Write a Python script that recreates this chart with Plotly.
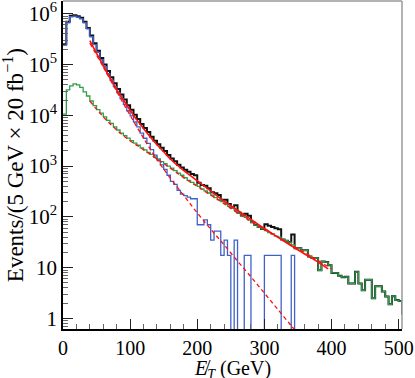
import numpy as np
import plotly.graph_objects as go

# 5 GeV bins, lower edges 0, 5, ..., 505
BIN_WIDTH = 5

total = [251000, 692000, 912000, 933000, 891000, 832000, 692000, 525000, 372000, 263000,
         186000, 135000, 100000, 74100, 56200, 42700, 33100, 25700, 20400, 15800,
         12900, 10200, 8500, 6760, 5620, 4670, 3800, 3160, 2690, 2290,
         1980, 1660, 1410, 1250, 1060, 940, 850, 770, 700, 660,
         470, 425, 410, 365, 305, 292, 271, 218, 217, 180,
         150, 170, 121, 106, 115, 105, 78, 69, 63, 58,
         72, 67, 63, 60, 57, 36, 34, 32, 45, 24,
         24, 22, 22, 16.6, 15.5, 15.5, 8.9, 13.2, 12.9, 11.2,
         7.9, 7.9, 6.9, 6.5, 6.6, 4.9, 4.9, 8.3, 4.9, 3.6,
         5.8, 5.8, 2.5, 4.3, 4.3, 3.4, 2.7, 1.9, 2.75, 2.3,
         2.2, 1.26]

multijet = [240000, 661000, 871000, 891000, 851000, 794000, 661000, 501000, 352000, 247000,
            173000, 124000, 90700, 66200, 49300, 36800, 28000, 21200, 16400, 12300,
            9740, 7380, 5930, 4470, 3530, 2810, 2100, 1650, 1310, 1060,
            860, 660, 500, 437, 332, 280, 262.5, 245, 227.5, 227.5,
            70, 70, 87.5, 70, 35, 52.5, 52.5, 17.5, 35, 17.5,
            0, 35, 0, 0, 17.5, 17.5, 0, 0, 0, 0,
            17.5, 17.5, 17.5, 17.5, 17.5, 0, 0, 0, 17.5, 0,
            0, 0, 0, 0, 0, 0, 0, 0, 0, 0,
            0, 0, 0, 0, 0, 0, 0, 0, 0, 0,
            0, 0, 0, 0, 0, 0, 0, 0, 0, 0,
            0, 0]

electroweak = [10500, 31600, 38000, 41700, 39800, 35500, 28800, 24000, 19100, 15500,
               12900, 11000, 9330, 7940, 6920, 5890, 5130, 4470, 3980, 3550,
               3160, 2820, 2570, 2290, 2090, 1860, 1700, 1510, 1380, 1230,
               1120, 1000, 912, 813, 724, 661, 589, 525, 479, 437,
               398, 355, 324, 295, 269, 240, 219, 200, 182, 162,
               148, 135, 120, 105, 98, 87, 78, 69, 63, 58,
               54, 49, 46, 42, 40, 36, 34, 32, 28, 24,
               24, 22, 22, 16.6, 15.5, 15.5, 8.9, 13.2, 12.9, 11.2,
               7.9, 7.9, 6.9, 6.5, 6.6, 4.9, 4.9, 8.3, 4.9, 3.6,
               5.8, 5.8, 2.5, 4.3, 4.3, 3.4, 2.7, 1.9, 2.75, 2.3,
               2.2, 1.26]

# fitted curves, sampled
fit_total_x = [40, 50, 60, 70, 80, 90, 100, 110, 120, 130, 140, 150, 160, 170, 180, 190,
               200, 220, 240, 260, 280, 300, 320, 340, 360, 380, 395]
fit_total_y = [295000, 166000, 95500, 55000, 32400, 20000, 12600, 8130, 5500, 3720, 2630,
               1910, 1380, 1050, 813, 646, 513, 324, 204, 135, 89, 59, 40, 27, 18.6, 12.9, 9.5]

fit_mj_x = [40, 60, 80, 100, 120, 140, 160, 180, 200, 220, 240, 260, 280, 300, 320, 340, 350]
fit_mj_y = [263000, 89100, 29500, 10000, 3550, 1350, 575, 263, 120, 57.5, 28.2, 13.5,
            6.6, 3.16, 1.51, 0.72, 0.5]

fit_ew_x = [40, 60, 80, 100, 120, 140, 160, 180, 200, 220, 240, 260, 280, 300, 320, 340,
            360, 380, 400]
fit_ew_y = [19000, 9330, 5130, 3160, 2090, 1380, 912, 589, 398, 269, 182, 120, 81, 56, 40,
            28, 20, 13.8, 9.5]

edges = np.arange(len(total) + 1) * BIN_WIDTH

FONT = 'Liberation Serif'


def step_trace(vals, color, width):
    v = np.array(vals, dtype=float)
    v = np.where(v > 0, v, 1e-3)
    y = np.append(v, v[-1])
    return go.Scatter(x=edges, y=y, mode='lines', line=dict(color=color, width=width, shape='hv'),
                      hoverinfo='skip', showlegend=False)


fig = go.Figure()
fig.add_trace(step_trace(total, '#111111', 2.0))
fig.add_trace(step_trace(electroweak, '#2e9e48', 1.3))
fig.add_trace(step_trace(multijet, '#4062c8', 1.3))

fig.add_trace(go.Scatter(x=fit_ew_x, y=fit_ew_y, mode='lines',
                         line=dict(color='#ff1010', width=1.3, dash='4px,3px', shape='spline'),
                         showlegend=False))
fig.add_trace(go.Scatter(x=fit_mj_x, y=fit_mj_y, mode='lines',
                         line=dict(color='#ff1010', width=1.3, dash='4px,3px', shape='spline'),
                         showlegend=False))
fig.add_trace(go.Scatter(x=fit_total_x, y=fit_total_y, mode='lines',
                         line=dict(color='#ff1010', width=1.6, shape='spline'),
                         showlegend=False))

ytick_vals = [1, 10, 100, 1e3, 1e4, 1e5, 1e6]
ytick_text = ['1', '10', '10<sup>2</sup>', '10<sup>3</sup>', '10<sup>4</sup>',
              '10<sup>5</sup>', '10<sup>6</sup>']

fig.update_xaxes(range=[0, 505], tickvals=[0, 100, 200, 300, 400, 500],
                 ticks='inside', ticklen=10, tickwidth=1, tickcolor='#222',
                 minor=dict(ticks='inside', ticklen=5, dtick=20, tickcolor='#666'),
                 showline=True, linecolor='black', linewidth=1.5,
                 showgrid=False, zeroline=False, automargin=False,
                 ticklabeloverflow='allow',
                 tickfont=dict(family=FONT, size=20, color='black'))
fig.update_yaxes(type='log', range=[-0.207, 6.25], tickvals=ytick_vals, ticktext=ytick_text,
                 ticks='inside', ticklen=10, tickwidth=1, tickcolor='#222',
                 minor=dict(ticks='inside', ticklen=5, dtick='D1', tickcolor='#666'),
                 showline=True, linecolor='black', linewidth=1.5,
                 showgrid=False, zeroline=False, automargin=False,
                 ticklabeloverflow='allow',
                 tickfont=dict(family=FONT, size=21, color='black'))

fig.update_layout(
    width=415, height=378,
    margin=dict(l=63, r=13, t=1, b=49),
    paper_bgcolor='white', plot_bgcolor='white',
    shapes=[
        dict(type='line', xref='paper', yref='paper', x0=0, x1=1, y0=1, y1=1,
             line=dict(color='#999999', width=1.5)),
        dict(type='line', xref='paper', yref='paper', x0=1, x1=1, y0=0, y1=1,
             line=dict(color='#999999', width=1.5)),
    ],
    annotations=[
        dict(text='<i>E̸</i><sub><i>T</i></sub> (GeV)', xref='paper', yref='paper',
             x=0.5, y=-0.123, xanchor='center', yanchor='middle', showarrow=False,
             font=dict(family=FONT, size=20, color='black')),
        dict(text='Events/(5 GeV × 20 fb<sup>−1</sup>)', xref='paper', yref='paper',
             x=-0.147, y=0.5, xanchor='center', yanchor='middle', textangle=-90,
             showarrow=False, font=dict(family=FONT, size=23, color='black')),
    ],
)

fig.write_html('out.html', config={'displayModeBar': False},
               post_script="document.body.style.margin='0';")
